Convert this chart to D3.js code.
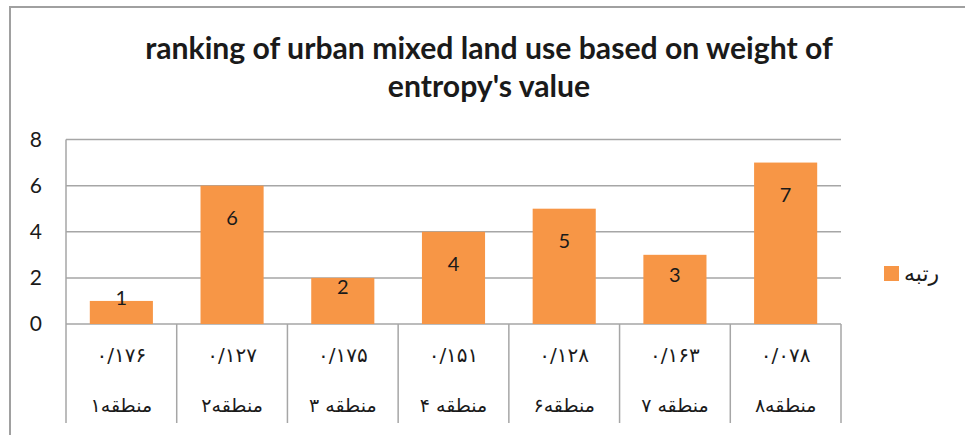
<!DOCTYPE html>
<html>
<head>
<meta charset="utf-8">
<script src="https://cdn.jsdelivr.net/npm/d3@7"></script>
<style>
    body { margin: 0; background: #fff; }
    svg { display: block; }
</style>
</head>
<body>
<div id="chart"></div>
<script>
// chart data
const regions = ["منطقه۱", "منطقه۲", "منطقه ۳", "منطقه ۴", "منطقه۶", "منطقه ۷", "منطقه۸"];
const weights = ["۰/۱۷۶", "۰/۱۲۷", "۰/۱۷۵", "۰/۱۵۱", "۰/۱۲۸", "۰/۱۶۳", "۰/۰۷۸"];
const ranks = [1, 6, 2, 4, 5, 3, 7];
const yTicks = [0, 2, 4, 6, 8];
const seriesName = "رتبه";
const titleLines = ["ranking of urban mixed land use based on weight of", "entropy's value"];

const W = 965, H = 435;
const plot = {left: 66, right: 841, top: 139.5, bottom: 324, catBottom: 423};
const barColor = "#f79646", gridColor = "#a6a6a6", textColor = "#1a1a1a";
const latin = "Lato, 'Open Sans', sans-serif";
const arabic = "'DejaVu Sans', sans-serif";

let svg = d3.select("#chart").append("svg")
    .attr("width", W)
    .attr("height", H);

// outer chart border (runs off the picture at right and bottom)
svg.append("rect")
    .attr("x", 10).attr("y", 7)
    .attr("width", 1000).attr("height", 500)
    .attr("fill", "#fff")
    .attr("stroke", "#a0a0a0")
    .attr("stroke-width", 2);

// title, fitted to its width in the reference
let title = svg.append("g").attr("class", "title");
titleLines.forEach((t, i) => {
    title.append("text")
        .attr("x", 489)
        .attr("y", i === 0 ? 59 : 97)
        .attr("text-anchor", "middle")
        .attr("font-family", latin)
        .attr("font-weight", "bold")
        .attr("font-size", 26)
        .attr("fill", textColor)
        .text(t);
});
// scale first line to ~688px, use same size for second
let first = title.select("text").node();
let fs = 26 * 688 / first.getComputedTextLength();
title.selectAll("text").attr("font-size", fs);

// scales
let x = d3.scaleBand()
    .domain(d3.range(regions.length))
    .range([plot.left, plot.right])
    .paddingInner(0.43)
    .paddingOuter(0.215);
let y = d3.scaleLinear()
    .domain([0, 8])
    .range([plot.bottom, plot.top]);

// gridlines
svg.append("g")
    .selectAll("line")
    .data(yTicks)
    .enter()
    .append("line")
    .attr("x1", plot.left).attr("x2", plot.right)
    .attr("y1", d => y(d)).attr("y2", d => y(d))
    .attr("stroke", gridColor)
    .attr("stroke-width", 1.5);

// value axis line
svg.append("line")
    .attr("x1", plot.left).attr("x2", plot.left)
    .attr("y1", plot.top).attr("y2", plot.bottom)
    .attr("stroke", gridColor)
    .attr("stroke-width", 1.5);

// y tick labels
svg.append("g")
    .selectAll("text")
    .data(yTicks)
    .enter()
    .append("text")
    .attr("x", 42)
    .attr("y", d => y(d) + 7)
    .attr("text-anchor", "end")
    .attr("font-family", latin)
    .attr("font-size", 21)
    .attr("fill", textColor)
    .text(d => d);

// category separators (table-like)
let step = x.step();
svg.append("g")
    .selectAll("line")
    .data(d3.range(regions.length + 1))
    .enter()
    .append("line")
    .attr("x1", i => plot.left + i * step)
    .attr("x2", i => plot.left + i * step)
    .attr("y1", plot.bottom).attr("y2", plot.catBottom)
    .attr("stroke", gridColor)
    .attr("stroke-width", 1.5);

// bars
svg.append("g")
    .selectAll("rect")
    .data(ranks)
    .enter()
    .append("rect")
    .attr("x", (d, i) => x(i))
    .attr("y", d => y(d))
    .attr("width", x.bandwidth())
    .attr("height", d => y(0) - y(d))
    .attr("fill", barColor);

// bar value labels
svg.append("g")
    .selectAll("text")
    .data(ranks)
    .enter()
    .append("text")
    .attr("x", (d, i) => x(i) + x.bandwidth() / 2)
    .attr("y", d => {
        let h = y(0) - y(d);
        return y(d) + Math.min(32, h / 2 - 14) + 7;
    })
    .attr("text-anchor", "middle")
    .attr("font-family", latin)
    .attr("font-size", 20)
    .attr("fill", textColor)
    .text(d => d);

// category labels: weight row and region row
let cats = svg.append("g")
    .selectAll("g")
    .data(regions)
    .enter()
    .append("g")
    .attr("transform", (d, i) => `translate(${x(i) + x.bandwidth() / 2},0)`);
cats.append("text")
    .attr("y", 362)
    .attr("text-anchor", "middle")
    .attr("font-family", arabic)
    .attr("font-size", 20)
    .attr("letter-spacing", 3)
    .attr("fill", textColor)
    .text((d, i) => weights[i]);
cats.append("text")
    .attr("y", 412)
    .attr("direction", "rtl")
    .attr("text-anchor", "middle")
    .attr("font-family", arabic)
    .attr("font-size", 19)
    .attr("fill", textColor)
    .text(d => d);

// legend
let legend = svg.append("g").attr("transform", "translate(884,266)");
legend.append("rect")
    .attr("width", 15).attr("height", 15)
    .attr("fill", barColor);
legend.append("text")
    .attr("x", 20).attr("y", 15)
    .attr("font-family", arabic)
    .attr("font-size", 22)
    .attr("fill", textColor)
    .text(seriesName);
</script>
</body>
</html>
